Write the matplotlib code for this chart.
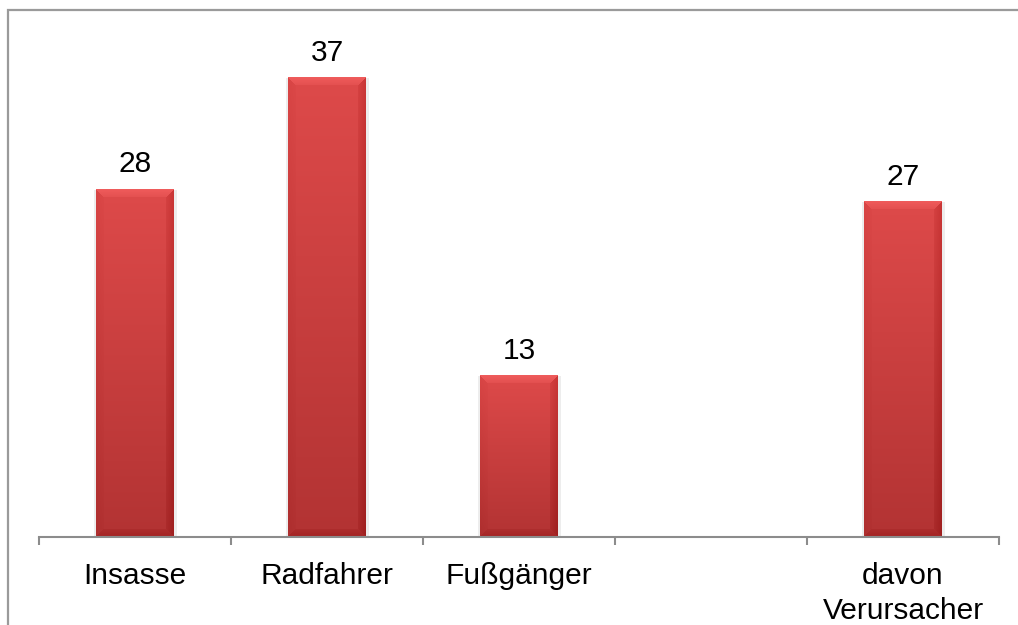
import numpy as np
import matplotlib.pyplot as plt
from matplotlib.patches import Rectangle

plt.rcParams['font.family'] = ['Liberation Sans', 'DejaVu Sans']

# data
categories = ["Insasse", "Radfahrer", "Fußgänger", "", "davon\nVerursacher"]
values = [28, 37, 13, None, 27]

W, H, DPI = 1018, 625, 100
fig = plt.figure(figsize=(W / DPI, H / DPI), dpi=DPI)
ax = fig.add_axes([39 / W, 1 - 537 / H, 960 / W, 497 / H])

# outer frame of the chart (runs past right/bottom edge)
fig.patches.append(Rectangle((8 / W, -0.2), 1.5, 1.2 - 10 / H,
                             transform=fig.transFigure, fill=False,
                             edgecolor="#9a9a9a", linewidth=1.6))

bar_w = 0.405
px_per_unit = 497 / 40.0
bar_px = bar_w * 960 / 5


def bevel_image(h_px, w_px, b=8):
    h_px, w_px = int(round(h_px)), int(round(w_px))
    yy, xx = np.mgrid[0:h_px, 0:w_px] + 0.5
    t = yy / h_px
    top = np.array([0.87, 0.29, 0.29])
    bot = np.array([0.70, 0.20, 0.20])
    img = top[None, None, :] * (1 - t[..., None]) + bot[None, None, :] * t[..., None]
    d = np.stack([yy, h_px - yy, xx, w_px - xx])  # top, bottom, left, right
    near = d.argmin(axis=0)
    dmin = d.min(axis=0)
    band = dmin < b
    fade = (1 - dmin / b).clip(0, 1)
    shade = np.zeros_like(dmin)
    shade[(near == 0) & band] = 0.07
    shade[(near == 1) & band] = -0.06
    shade[(near == 2) & band] = -0.02
    shade[(near == 3) & band] = -0.08
    shade = shade * (0.4 + 0.6 * fade)
    img = img + shade[..., None]
    return np.clip(img, 0, 1)


for i, v in enumerate(values):
    if v is None:
        continue
    # soft shadow
    ax.add_patch(Rectangle((i - bar_w / 2 - 0.01, -0.15), bar_w + 0.025, v + 0.1,
                           facecolor="#000000", alpha=0.07, linewidth=0, zorder=1))
    img = bevel_image(v * px_per_unit, bar_px)
    ax.imshow(img, extent=(i - bar_w / 2, i + bar_w / 2, 0, v), aspect="auto",
              interpolation="bilinear", zorder=2)
    ax.annotate(str(v), xy=(i, v), xytext=(0, 12), textcoords="offset points",
                ha="center", va="baseline", fontsize=21.5, color="black")

ax.set_xlim(-0.5, len(categories) - 0.5)
ax.set_ylim(0, 40)

for side in ["top", "right", "left"]:
    ax.spines[side].set_visible(False)
ax.spines["bottom"].set_color("#8c8c8c")
ax.spines["bottom"].set_linewidth(1.5)
ax.set_yticks([])
ax.set_xticks(np.arange(-0.5, len(categories), 1.0))
ax.set_xticklabels([])
ax.tick_params(axis="x", direction="out", length=6, width=1.5, color="#8c8c8c")

for i, c in enumerate(categories):
    ax.annotate(c, xy=(i, 0), xycoords=("data", "axes fraction"),
                xytext=(0, -18), textcoords="offset points",
                ha="center", va="top", fontsize=21.5, linespacing=1.3)

fig.savefig("out.png", dpi=DPI)
